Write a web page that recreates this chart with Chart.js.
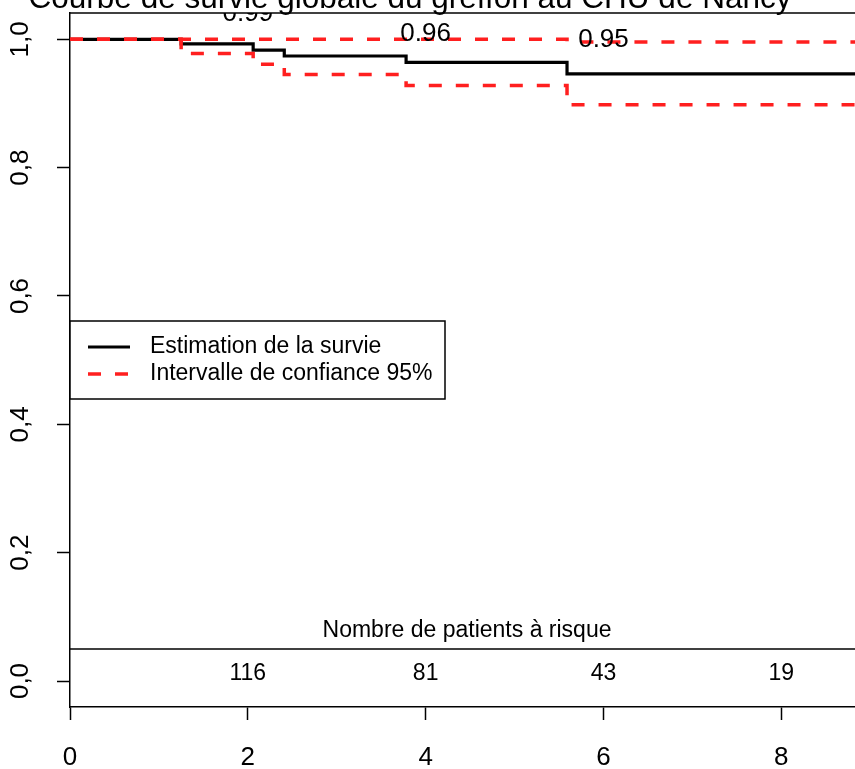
<!DOCTYPE html>
<html>
<head>
<meta charset="utf-8">
<script src="https://cdn.jsdelivr.net/npm/chart.js@4"></script>
<style>
  html, body { margin: 0; padding: 0; background: #fff; overflow: hidden; }
  #wrap { width: 870px; height: 769px; }
</style>
</head>
<body>
<div id="wrap"><canvas id="chart" width="870" height="769"></canvas></div>
<script>
'use strict';

/* ── Data ──────────────────────────────────────────────────────── */
const times    = [0, 1.25, 2.06, 2.41, 3.78, 5.59, 9.5];
const survival = [1, 0.993, 0.983, 0.974, 0.964, 0.946, 0.946];
const upperCI  = [1, 1, 1, 1, 1, 0.996, 0.996];
const lowerCI  = [1, 0.978, 0.961, 0.945, 0.928, 0.898, 0.898];

const xTicks = [0, 2, 4, 6, 8];
const yTicks = [0, 0.2, 0.4, 0.6, 0.8, 1.0];

// survival printed above the curve at these years
const labelTimes  = [2, 4, 6];
const labelValues = [0.99, 0.96, 0.95];

// number at risk table
const riskTimes  = [2, 4, 6, 8];
const riskCounts = [116, 81, 43, 19];

const TITLE      = 'Courbe de survie globale du greffon au CHU de Nancy';
const RISK_TITLE = 'Nombre de patients à risque';

/* ── Styles ────────────────────────────────────────────────────── */
const FONT = '"Liberation Sans", Arial, Helvetica, sans-serif';
const RED = '#ff1f1f';
const DASH = [13, 14];
const LABEL_LIFT = 0.049;   // label sits this far above its value
const RISK_LINE = 0.05;     // separator of the risk table (y units)
const RISK_HEAD_Y = 0.078;
const RISK_NUM_Y = 0.0117;

const toPoints = ys => times.map((t, i) => ({ x: t, y: ys[i] }));

/* ── Overlay plugin: title, box, labels, legend, risk table ────── */
const overlay = {
    id: 'overlay',
    beforeDraw(chart) {
        const { ctx } = chart;
        ctx.save();
        ctx.fillStyle = '#fff';
        ctx.fillRect(0, 0, chart.width, chart.height);
        ctx.restore();
    },
    afterDatasetsDraw(chart) {
        const { ctx, chartArea: ca, scales: { x, y } } = chart;
        ctx.save();

        // title (cut by the top of the picture)
        ctx.fillStyle = '#000';
        ctx.font = `31.5px ${FONT}`;
        ctx.textAlign = 'center';
        ctx.textBaseline = 'alphabetic';
        ctx.fillText(TITLE, 410, 8);

        // top edge of the plot box
        ctx.strokeStyle = '#000';
        ctx.lineWidth = 1.5;
        ctx.beginPath();
        ctx.moveTo(ca.left, ca.top);
        ctx.lineTo(ca.right, ca.top);
        ctx.stroke();

        // survival labels, clipped to the plot region
        ctx.save();
        ctx.beginPath();
        ctx.rect(ca.left, ca.top, ca.right - ca.left, ca.bottom - ca.top);
        ctx.clip();
        ctx.font = `26px ${FONT}`;
        ctx.textBaseline = 'middle';
        labelTimes.forEach((t, i) => {
            ctx.fillText(labelValues[i].toFixed(2), x.getPixelForValue(t), y.getPixelForValue(labelValues[i] + LABEL_LIFT));
        });
        ctx.restore();

        // risk table
        const ly = y.getPixelForValue(RISK_LINE);
        ctx.beginPath();
        ctx.moveTo(ca.left, ly);
        ctx.lineTo(ca.right, ly);
        ctx.stroke();
        ctx.font = `23px ${FONT}`;
        ctx.textAlign = 'center';
        ctx.textBaseline = 'middle';
        ctx.fillText(RISK_TITLE, (ca.left + ca.right) / 2, y.getPixelForValue(RISK_HEAD_Y));
        riskTimes.forEach((t, i) => {
            ctx.fillText(String(riskCounts[i]), x.getPixelForValue(t), y.getPixelForValue(RISK_NUM_Y));
        });

        // legend
        const bx = ca.left, by = 321, bw = 375, bh = 78;
        ctx.fillStyle = '#fff';
        ctx.fillRect(bx, by, bw, bh);
        ctx.strokeStyle = '#000';
        ctx.lineWidth = 1.5;
        ctx.strokeRect(bx, by, bw, bh);
        const items = chart.data.datasets.filter(d => !d.hideInLegend);
        items.forEach((d, i) => {
            const iy = 347 + i * 27;
            ctx.strokeStyle = d.borderColor;
            ctx.lineWidth = d.borderWidth;
            ctx.setLineDash(d.borderDash || []);
            ctx.beginPath();
            ctx.moveTo(88, iy);
            ctx.lineTo(130, iy);
            ctx.stroke();
            ctx.setLineDash([]);
            ctx.fillStyle = '#000';
            ctx.font = `23px ${FONT}`;
            ctx.textAlign = 'left';
            ctx.textBaseline = 'middle';
            ctx.fillText(d.label, 150, iy);
        });

        ctx.restore();
    }
};

/* ── Chart ─────────────────────────────────────────────────────── */
new Chart(document.getElementById('chart'), {
    type: 'line',
    data: {
        datasets: [
            {
                label: 'Estimation de la survie',
                data: toPoints(survival),
                borderColor: '#000',
                borderWidth: 3.2,
                stepped: 'before',
                pointRadius: 0,
                order: 2
            },
            {
                label: 'Intervalle de confiance 95%',
                data: toPoints(upperCI),
                borderColor: RED,
                borderWidth: 3.5,
                borderDash: DASH,
                stepped: 'before',
                pointRadius: 0,
                order: 1
            },
            {
                label: 'Intervalle de confiance 95%',
                data: toPoints(lowerCI),
                borderColor: RED,
                borderWidth: 3.5,
                borderDash: DASH,
                stepped: 'before',
                pointRadius: 0,
                order: 1,
                hideInLegend: true
            }
        ]
    },
    options: {
        responsive: false,
        animation: false,
        devicePixelRatio: 1,
        layout: { padding: { left: 0, top: 13, right: 6, bottom: 0 } },
        plugins: {
            legend: { display: false },
            tooltip: { enabled: false }
        },
        scales: {
            x: {
                type: 'linear',
                min: 0,
                max: 8.93,
                afterBuildTicks: s => { s.ticks = xTicks.map(v => ({ value: v })); },
                afterFit: s => { s.height = 62; s.paddingLeft = 0; s.paddingRight = 0; },
                grid: { drawOnChartArea: false, tickLength: 13, tickWidth: 1.5, tickColor: '#000' },
                border: { display: true, color: '#000', width: 1.5 },
                ticks: {
                    color: '#000',
                    font: { family: FONT, size: 26 },
                    padding: 22,
                    autoSkip: false,
                    maxRotation: 0,
                    callback: v => String(v)
                }
            },
            y: {
                type: 'linear',
                min: -0.0405,
                max: 1.041,
                afterBuildTicks: s => { s.ticks = yTicks.map(v => ({ value: v })); },
                afterFit: s => { s.width = 70; s.paddingTop = 0; s.paddingBottom = 0; },
                grid: { drawOnChartArea: false, tickLength: 13, tickWidth: 1.5, tickColor: '#000' },
                border: { display: true, color: '#000', width: 1.5 },
                ticks: {
                    color: '#000',
                    font: { family: FONT, size: 26 },
                    padding: 18,
                    minRotation: 90,
                    maxRotation: 90,
                    crossAlign: 'center',
                    autoSkip: false,
                    callback: v => v.toFixed(1).replace('.', ',')
                }
            }
        }
    },
    plugins: [overlay]
});
</script>
</body>
</html>
